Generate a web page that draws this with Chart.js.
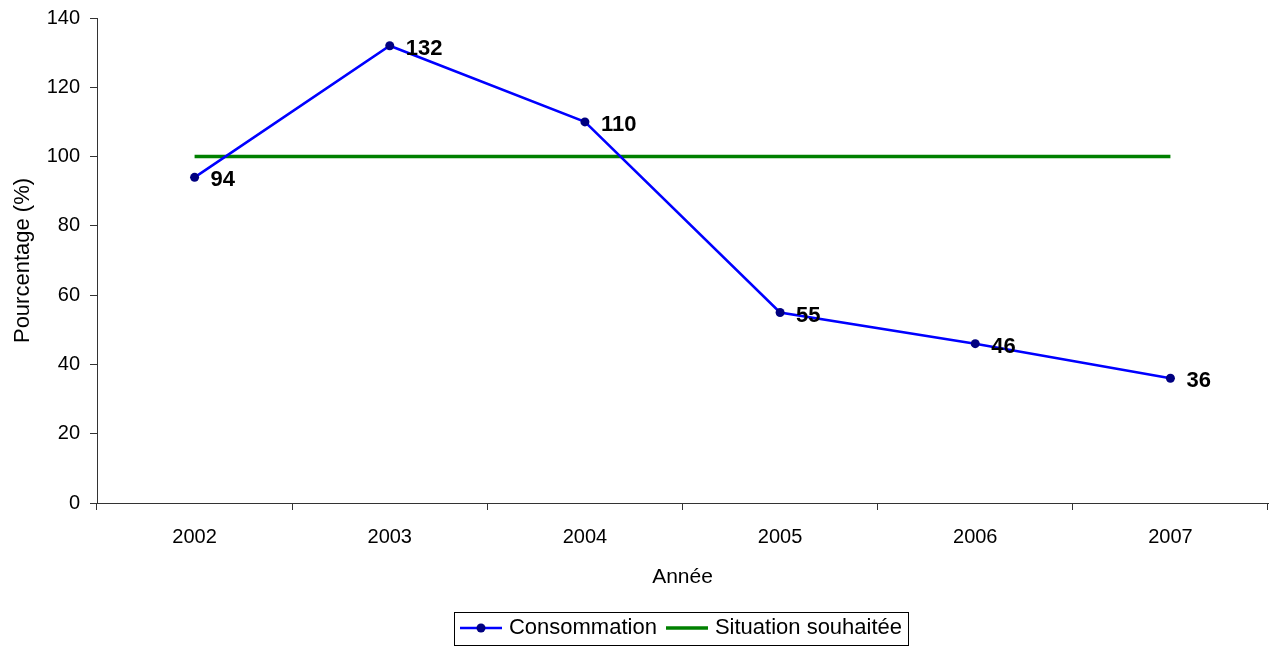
<!DOCTYPE html>
<html lang="fr">
<head>
  <meta charset="UTF-8">
  <title>Consommation 2002-2007</title>
  <script src="https://cdn.jsdelivr.net/npm/chart.js"></script>
  <style>
    html, body {
      margin: 0;
      padding: 0;
      background: #fff;
    }
    #wrap {
      width: 1274px;
      height: 650px;
    }
  </style>
</head>
<body>
  <div id="wrap"><canvas id="graphique" width="1274" height="650"></canvas></div>

  <script>
    const annees = ['2002', '2003', '2004', '2005', '2006', '2007'];
    const consommation = [94, 132, 110, 55, 46, 36];
    const situationSouhaitee = [100, 100, 100, 100, 100, 100];

    const police = 'Arial, "Liberation Sans", sans-serif';
    Chart.defaults.font.family = police;
    Chart.defaults.color = '#000';

    // petites images pour la légende (trait + point)
    function symbole(couleurTrait, epaisseur, couleurPoint) {
      const c = document.createElement('canvas');
      c.width = 42;
      c.height = 12;
      const g = c.getContext('2d');
      g.strokeStyle = couleurTrait;
      g.lineWidth = epaisseur;
      g.beginPath();
      g.moveTo(0, 6);
      g.lineTo(42, 6);
      g.stroke();
      if (couleurPoint) {
        g.fillStyle = couleurPoint;
        g.beginPath();
        g.arc(21, 6, 4.5, 0, Math.PI * 2);
        g.fill();
      }
      return c;
    }
    const symboleConso = symbole('#0000ff', 2.5, '#000080');
    const symboleCible = symbole('#008000', 3.5, null);

    // étiquettes de valeur à droite des points
    const etiquettes = {
      id: 'etiquettes',
      afterDatasetsDraw(chart) {
        const meta = chart.getDatasetMeta(0);
        const ctx = chart.ctx;
        ctx.save();
        ctx.font = 'bold 22px ' + police;
        ctx.fillStyle = '#000';
        ctx.textAlign = 'left';
        ctx.textBaseline = 'middle';
        meta.data.forEach((pt, i) => {
          ctx.fillText(String(consommation[i]), pt.x + 16, pt.y + 3);
        });
        ctx.restore();
      }
    };

    // légende centrée sous la zone de tracé
    const centrageLegende = {
      id: 'centrageLegende',
      afterUpdate(chart) {
        const lg = chart.legend;
        const ca = chart.chartArea;
        if (!lg || !ca) return;
        const dx = Math.round((ca.left + ca.right) / 2 - (lg.left + lg.right) / 2);
        const dy = -1;
        lg.left += dx;
        lg.right += dx;
        lg.top += dy;
        lg.bottom += dy;
        lg.legendHitBoxes.forEach(b => {
          b.left += dx;
          b.top += dy;
        });
      }
    };

    // cadre autour de la légende
    const cadreLegende = {
      id: 'cadreLegende',
      afterDraw(chart) {
        const boites = chart.legend && chart.legend.legendHitBoxes;
        if (!boites || !boites.length) return;
        let x0 = Infinity, x1 = -Infinity, y0 = Infinity, y1 = -Infinity;
        boites.forEach(b => {
          x0 = Math.min(x0, b.left);
          x1 = Math.max(x1, b.left + b.width);
          y0 = Math.min(y0, b.top);
          y1 = Math.max(y1, b.top + b.height);
        });
        const ctx = chart.ctx;
        ctx.save();
        ctx.strokeStyle = '#000';
        ctx.lineWidth = 1;
        ctx.strokeRect(Math.round(x0 - 10) + 0.5, Math.round(y0 - 5) + 0.5,
          Math.round(x1 - x0 + 16), Math.round(y1 - y0 + 11));
        ctx.restore();
      }
    };

    const ctx = document.getElementById('graphique').getContext('2d');
    new Chart(ctx, {
      type: 'line',
      data: {
        labels: annees,
        datasets: [{
          label: 'Consommation',
          data: consommation,
          borderColor: '#0000ff',
          borderWidth: 2.5,
          pointRadius: 4.5,
          pointBackgroundColor: '#000080',
          pointBorderColor: '#000080',
          pointBorderWidth: 0,
          tension: 0,
          fill: false
        }, {
          label: 'Situation souhaitée',
          data: situationSouhaitee,
          borderColor: '#008000',
          borderWidth: 3.5,
          pointRadius: 0,
          tension: 0,
          fill: false
        }]
      },
      options: {
        responsive: false,
        animation: false,
        events: [],
        layout: {
          padding: { top: 18, right: 6, bottom: 0, left: 0 }
        },
        plugins: {
          tooltip: { enabled: false },
          legend: {
            position: 'bottom',
            labels: {
              usePointStyle: true,
              pointStyleWidth: 34,
              padding: 13,
              font: { size: 22 },
              color: '#000',
              generateLabels(chart) {
                const items = Chart.defaults.plugins.legend.labels.generateLabels(chart);
                items.forEach(it => {
                  it.pointStyle = it.datasetIndex === 0 ? symboleConso : symboleCible;
                });
                return items;
              }
            }
          }
        },
        scales: {
          x: {
            offset: true,
            afterFit(scale) { scale.height = 102; },
            grid: {
              offset: true,
              drawOnChartArea: false,
              drawTicks: true,
              tickLength: 7,
              tickColor: '#333'
            },
            border: { color: '#333', width: 1 },
            ticks: {
              padding: 15,
              font: { size: 20 },
              color: '#000'
            },
            title: {
              display: true,
              text: 'Année',
              font: { size: 21 },
              color: '#000',
              padding: { top: 0, bottom: 15 }
            }
          },
          y: {
            min: 0,
            max: 140,
            afterFit(scale) {
              scale.width = 97;
              scale.paddingTop = 0;
              scale.paddingBottom = 0;
            },
            grid: {
              drawOnChartArea: false,
              drawTicks: true,
              tickLength: 7,
              tickColor: '#333'
            },
            border: { color: '#333', width: 1 },
            ticks: {
              stepSize: 20,
              padding: 10,
              font: { size: 20 },
              color: '#000'
            },
            title: {
              display: true,
              text: 'Pourcentage (%)',
              font: { size: 22 },
              color: '#000',
              padding: { top: 10, bottom: 0 }
            }
          }
        }
      },
      plugins: [etiquettes, centrageLegende, cadreLegende]
    });
  </script>
</body>
</html>
